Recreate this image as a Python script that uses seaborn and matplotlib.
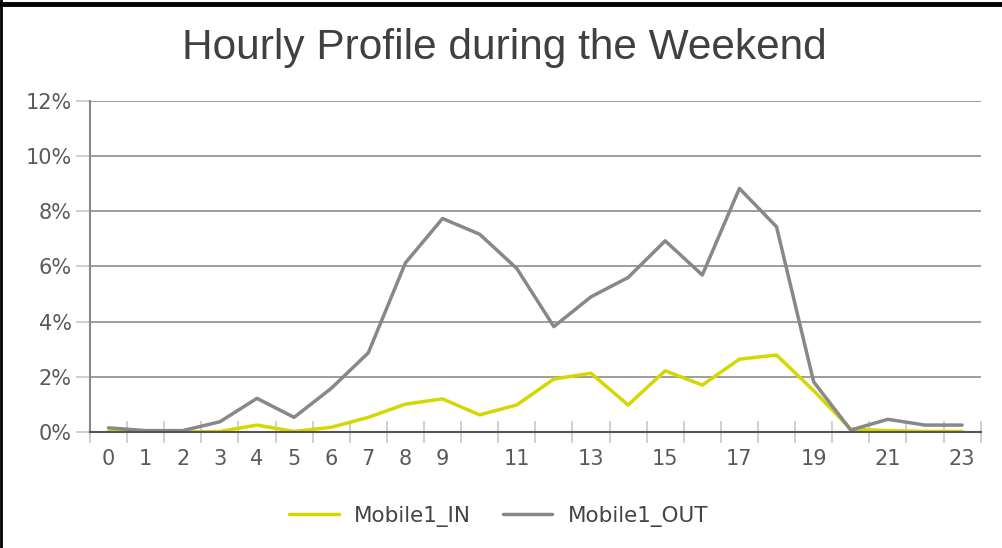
import numpy as np
import pandas as pd
import seaborn as sns
import matplotlib.pyplot as plt
from matplotlib.lines import Line2D
from matplotlib.ticker import FuncFormatter

hours = list(range(24))
mobile_in = [0.02, 0.0, 0.0, 0.02, 0.25, 0.02, 0.17, 0.53, 1.01, 1.2, 0.62, 0.98,
             1.92, 2.13, 0.98, 2.22, 1.7, 2.64, 2.79, 1.5, 0.1, 0.05, 0.02, 0.02]
mobile_out = [0.15, 0.05, 0.05, 0.37, 1.22, 0.53, 1.58, 2.87, 6.13, 7.74, 7.17, 5.93,
              3.82, 4.9, 5.6, 6.93, 5.69, 8.83, 7.44, 1.82, 0.07, 0.46, 0.25, 0.25]
tick_labels = ["0", "1", "2", "3", "4", "5", "6", "7", "8", "9", "", "11",
               "", "13", "", "15", "", "17", "", "19", "", "21", "", "23"]
series = ["Mobile1_IN", "Mobile1_OUT"]
colors = ["#d4d800", "#888888"]

df = pd.DataFrame({"hour": hours * 2,
                   "value": mobile_in + mobile_out,
                   "series": [series[0]] * 24 + [series[1]] * 24})

sns.set_style("white")
fig = plt.figure(figsize=(10.03, 5.48), dpi=100)
ax = fig.add_axes([0.0897, 0.2117, 0.888, 0.604])

sns.lineplot(data=df, x="hour", y="value", hue="series", palette=colors,
             linewidth=2.5, ax=ax, legend=False)

ax.set_xlim(-0.5, 23.5)
ax.set_ylim(0, 12)
ax.set_yticks(np.arange(0, 13, 2))
ax.yaxis.set_major_formatter(FuncFormatter(lambda v, p: f"{v:.0f}%"))
ax.set_xticks(hours)
ax.set_xticklabels(tick_labels)
ax.set_xticks(np.arange(-0.5, 24, 1), minor=True)
ax.tick_params(axis="x", which="major", bottom=False, length=0, pad=12,
               labelsize=15, labelcolor="#5a5a5a")
ax.tick_params(axis="x", which="minor", bottom=True, direction="inout",
               length=16, width=1.2, color="#c8c8c8")
ax.tick_params(axis="y", which="major", left=True, length=10, width=1.2,
               color="#c8c8c8", labelsize=15, labelcolor="#5a5a5a", pad=3)
ax.grid(axis="y", color="#8c8c8c", linewidth=1.2)
ax.set_axisbelow(True)
ax.set_xlabel("")
ax.set_ylabel("")
for s in ["top", "right"]:
    ax.spines[s].set_visible(False)
ax.spines["left"].set_color("#888888")
ax.spines["left"].set_linewidth(1.5)
ax.spines["bottom"].set_color("#555555")
ax.spines["bottom"].set_linewidth(1.5)

fig.text(0.503, 0.913, "Hourly Profile during the Weekend", ha="center", va="center",
         fontsize=30.5, color="#404040", family="Liberation Sans")

handles = [Line2D([0], [0], color=c, linewidth=2.5) for c in colors]
fig.legend(handles, series, loc="center", bbox_to_anchor=(0.497, 0.058), ncol=2,
           frameon=False, fontsize=15.5, handlelength=2.3, handletextpad=0.7,
           columnspacing=1.5, labelcolor="#444444")

# black frame edges seen in the reference
fig.add_artist(Line2D([0, 1], [0.993, 0.993], color="black", linewidth=3.5,
                      transform=fig.transFigure))
fig.add_artist(Line2D([0.001, 0.001], [0, 1], color="black", linewidth=2,
                      transform=fig.transFigure))

fig.savefig("out.png", dpi=100)
